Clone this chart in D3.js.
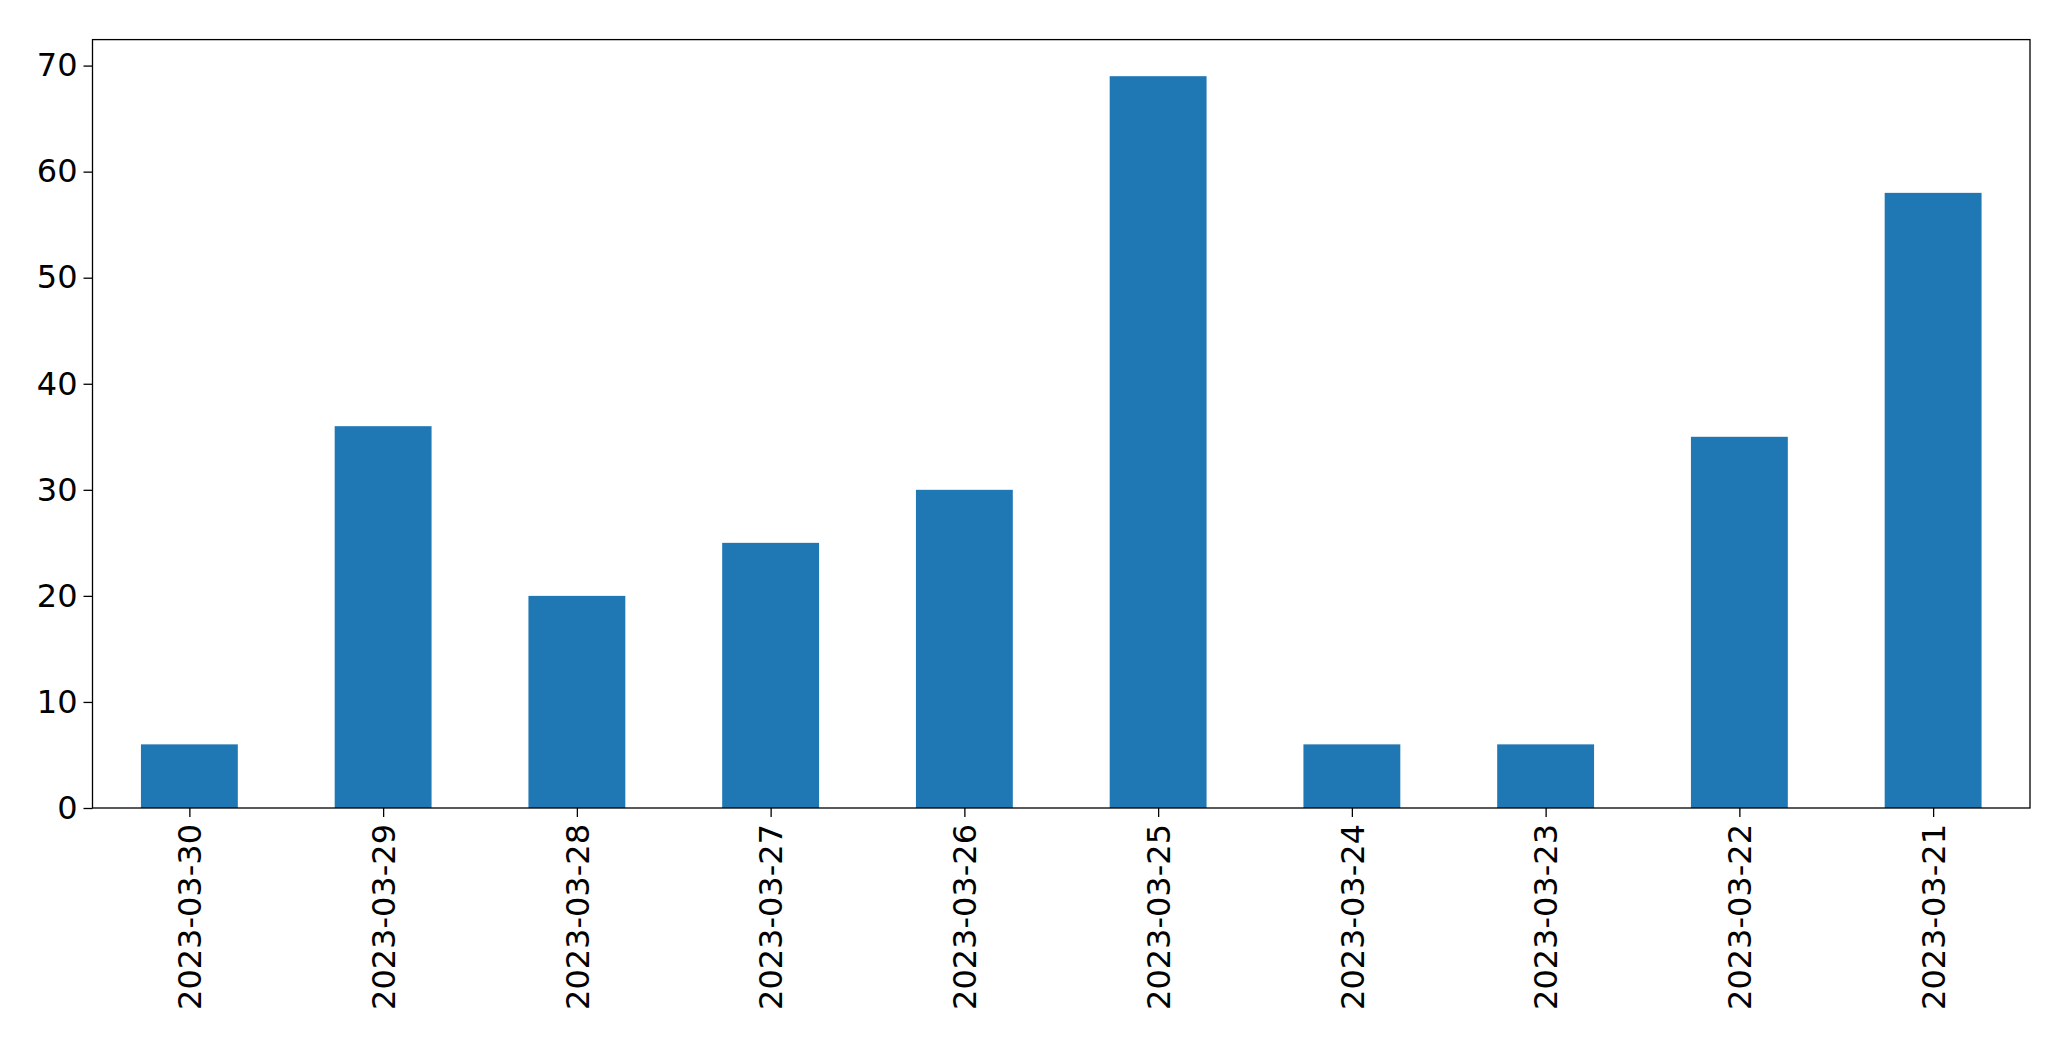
<!DOCTYPE html>
<html><head><meta charset="utf-8">
<script src="https://cdn.jsdelivr.net/npm/d3@7"></script>
<style>body{margin:0;background:#fff}svg{display:block}</style>
</head><body>
<script>
const categories = ["2023-03-30","2023-03-29","2023-03-28","2023-03-27","2023-03-26","2023-03-25","2023-03-24","2023-03-23","2023-03-22","2023-03-21"];
const values = [6,36,20,25,30,69,6,6,35,58];
const yTicks = [0,10,20,30,40,50,60,70];

const W=2071,H=1061;
const m={l:92.5,r:W-2030,t:39.6,b:H-808};
const svg=d3.select("body").append("svg").attr("width",W).attr("height",H);
const x=d3.scaleLinear().domain([-0.5,categories.length-0.5]).range([m.l,W-m.r]);
const y=d3.scaleLinear().domain([0,d3.max(values)*1.05]).range([H-m.b,m.t]);
const bw=x(0.25)-x(-0.25);
svg.selectAll("rect.bar").data(values).enter().append("rect")
  .attr("x",(d,i)=>x(i)-bw/2).attr("width",bw)
  .attr("y",d=>y(d)).attr("height",d=>y(0)-y(d)).attr("fill","#1f77b4");
const fs="32px";
const ya=svg.append("g").attr("transform",`translate(${m.l},0)`)
  .call(d3.axisLeft(y).tickValues(yTicks).tickSize(9).tickPadding(6));
ya.select(".domain").remove();
ya.selectAll("text").style("font-family","DejaVu Sans").style("font-size",fs).attr("fill","#000");
ya.selectAll("line").attr("stroke","#000").attr("stroke-width",1.3);
const xa=svg.append("g").attr("transform",`translate(0,${H-m.b})`)
  .call(d3.axisBottom(x).tickValues(d3.range(categories.length)).tickFormat(i=>categories[i]).tickSize(9));
xa.select(".domain").remove();
xa.selectAll("line").attr("stroke","#000").attr("stroke-width",1.3);
xa.selectAll("text").style("font-family","DejaVu Sans").style("font-size",fs).attr("fill","#000")
  .attr("transform","rotate(-90)").attr("text-anchor","end").attr("dy","0.35em").attr("x",-16).attr("y",0);
svg.append("rect").attr("x",m.l).attr("y",m.t).attr("width",W-m.l-m.r).attr("height",H-m.t-m.b)
  .attr("fill","none").attr("stroke","#000").attr("stroke-width",1.3);
</script>
</body></html>
